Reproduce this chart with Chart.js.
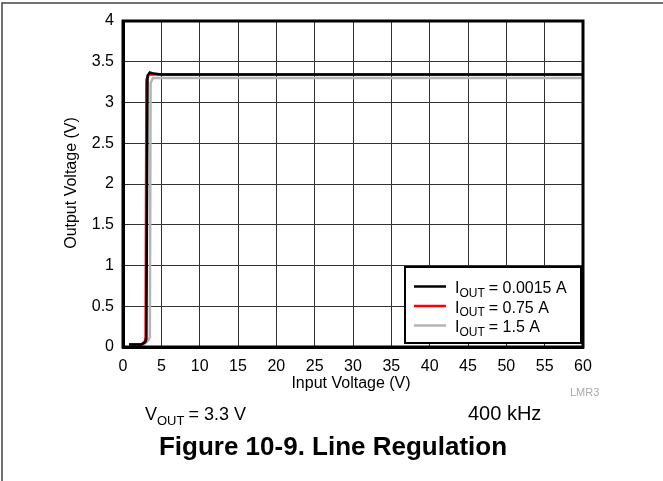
<!DOCTYPE html>
<html>
<head>
<meta charset="utf-8">
<script src="https://cdn.jsdelivr.net/npm/chart.js@4/dist/chart.umd.min.js"></script>
<style>
html,body{margin:0;padding:0;background:#fff;}
canvas{display:block;}
</style>
</head>
<body>
<canvas id="c" width="663" height="481"></canvas>
<script>
// ---- data ----
const blackX = [0.8, 2.4, 2.9, 3.05, 3.2, 3.5, 4.0, 5, 10, 20, 30, 40, 50, 60];
const blackY = [0.03, 0.03, 0.06, 0.1, 3.33, 3.37, 3.355, 3.345, 3.345, 3.345, 3.345, 3.345, 3.345, 3.345];
const redX = [0.8, 2.4, 2.85, 2.95, 3.05, 3.4, 5, 10, 20, 30, 40, 50, 60];
const redY = [0.03, 0.03, 0.07, 0.12, 3.28, 3.345, 3.345, 3.345, 3.345, 3.345, 3.345, 3.345, 3.345];
const grayX = [0.8, 2.7, 3.3, 3.5, 3.6, 3.9, 5, 10, 20, 30, 40, 50, 60];
const grayY = [0.03, 0.03, 0.08, 0.12, 3.24, 3.30, 3.30, 3.30, 3.30, 3.30, 3.30, 3.30, 3.30];
const seriesLabels = ["= 0.0015 A", "= 0.75 A", "= 1.5 A"];
const xTicks = [0, 5, 10, 15, 20, 25, 30, 35, 40, 45, 50, 55, 60];
const yTicks = [0, 0.5, 1, 1.5, 2, 2.5, 3, 3.5, 4];

const pts = (xs, ys) => xs.map((x, i) => ({x: x, y: ys[i]}));
const FONT = "Arial, 'Liberation Sans', Helvetica, sans-serif";
const colors = ["#000000", "#ff0000", "#b4b4b4"];

const extras = {
  id: 'extras',
  beforeDraw(chart) {
    const ctx = chart.ctx;
    ctx.save();
    ctx.fillStyle = '#fff';
    ctx.fillRect(0, 0, chart.width, chart.height);
    ctx.strokeStyle = '#444';
    ctx.lineWidth = 1.5;
    ctx.beginPath();
    ctx.moveTo(2, chart.height);
    ctx.lineTo(2, 3);
    ctx.lineTo(chart.width, 3);
    ctx.stroke();
    ctx.restore();
  },
  afterDraw(chart) {
    const ctx = chart.ctx;
    const a = chart.chartArea;
    ctx.save();
    // plot frame
    ctx.strokeStyle = '#000';
    ctx.lineWidth = 3;
    ctx.strokeRect(a.left, a.top, a.right - a.left, a.bottom - a.top);

    // legend box
    const lx = 405, ly = 267, lw = 176, lh = 76;
    ctx.fillStyle = '#fff';
    ctx.fillRect(lx, ly, lw, lh);
    ctx.lineWidth = 2;
    ctx.strokeStyle = '#000';
    ctx.strokeRect(lx, ly, lw, lh);
    ctx.textBaseline = 'alphabetic';
    ctx.textAlign = 'left';
    for (let i = 0; i < 3; i++) {
      const y = 286.5 + i * 19.5;
      ctx.strokeStyle = colors[i];
      ctx.lineWidth = 2.5;
      ctx.beginPath();
      ctx.moveTo(414, y);
      ctx.lineTo(446, y);
      ctx.stroke();
      ctx.fillStyle = '#000';
      let x = 455;
      ctx.font = '16px ' + FONT;
      ctx.fillText('I', x, y + 6.5);
      x += ctx.measureText('I').width;
      ctx.font = '12px ' + FONT;
      ctx.fillText('OUT', x, y + 10);
      x += ctx.measureText('OUT').width + 4;
      ctx.font = '16px ' + FONT;
      ctx.fillText(seriesLabels[i], x, y + 6.5);
    }

    // axis titles
    ctx.fillStyle = '#000';
    ctx.font = '16px ' + FONT;
    ctx.textAlign = 'center';
    ctx.fillText('Input Voltage (V)', 351, 388);
    ctx.save();
    ctx.translate(76, 183);
    ctx.rotate(-Math.PI / 2);
    ctx.fillText('Output Voltage (V)', 0, 0);
    ctx.restore();

    // small code label
    ctx.fillStyle = '#aaa';
    ctx.font = '11px ' + FONT;
    ctx.textAlign = 'left';
    ctx.fillText('LMR3', 570, 396);

    // condition line
    ctx.fillStyle = '#000';
    ctx.font = '18px ' + FONT;
    let x = 145;
    ctx.fillText('V', x, 420);
    x += ctx.measureText('V').width;
    ctx.font = '13px ' + FONT;
    ctx.fillText('OUT', x, 425);
    x += ctx.measureText('OUT').width + 4;
    ctx.font = '18px ' + FONT;
    ctx.fillText('= 3.3 V', x, 420);
    ctx.font = '20px ' + FONT;
    ctx.fillText('400 kHz', 468, 420);

    // figure caption
    ctx.font = 'bold 26px ' + FONT;
    ctx.textAlign = 'center';
    ctx.fillText('Figure 10-9. Line Regulation', 333, 455);
    ctx.restore();
  }
};

new Chart(document.getElementById('c'), {
  type: 'line',
  data: {
    datasets: [
      {label: 'IOUT = 1.5 A', data: pts(grayX, grayY), borderColor: colors[2], borderWidth: 2.5, order: 3},
      {label: 'IOUT = 0.75 A', data: pts(redX, redY), borderColor: colors[1], borderWidth: 2.5, order: 2},
      {label: 'IOUT = 0.0015 A', data: pts(blackX, blackY), borderColor: colors[0], borderWidth: 2.5, order: 1}
    ]
  },
  options: {
    responsive: false,
    animation: false,
    devicePixelRatio: 1,
    layout: {padding: {left: 0, top: 21, right: 80, bottom: 0}},
    elements: {point: {radius: 0}, line: {tension: 0}},
    plugins: {legend: {display: false}, tooltip: {enabled: false}},
    scales: {
      x: {
        type: 'linear', min: 0, max: 60,
        afterBuildTicks: s => { s.ticks = xTicks.map(v => ({value: v})); },
        afterFit: s => { s.height = 134; },
        ticks: {color: '#000', font: {family: FONT, size: 16}, padding: 10, maxRotation: 0,
                callback: v => String(v)},
        grid: {color: '#333', lineWidth: 1, drawTicks: false},
        border: {display: true, color: '#000', width: 3}
      },
      y: {
        type: 'linear', min: 0, max: 4,
        afterBuildTicks: s => { s.ticks = yTicks.map(v => ({value: v})); },
        afterFit: s => { s.width = 123; },
        ticks: {color: '#000', font: {family: FONT, size: 16}, padding: 9,
                callback: v => String(v)},
        grid: {color: '#333', lineWidth: 1, drawTicks: false},
        border: {display: true, color: '#000', width: 3}
      }
    }
  },
  plugins: [extras]
});
</script>
</body>
</html>
